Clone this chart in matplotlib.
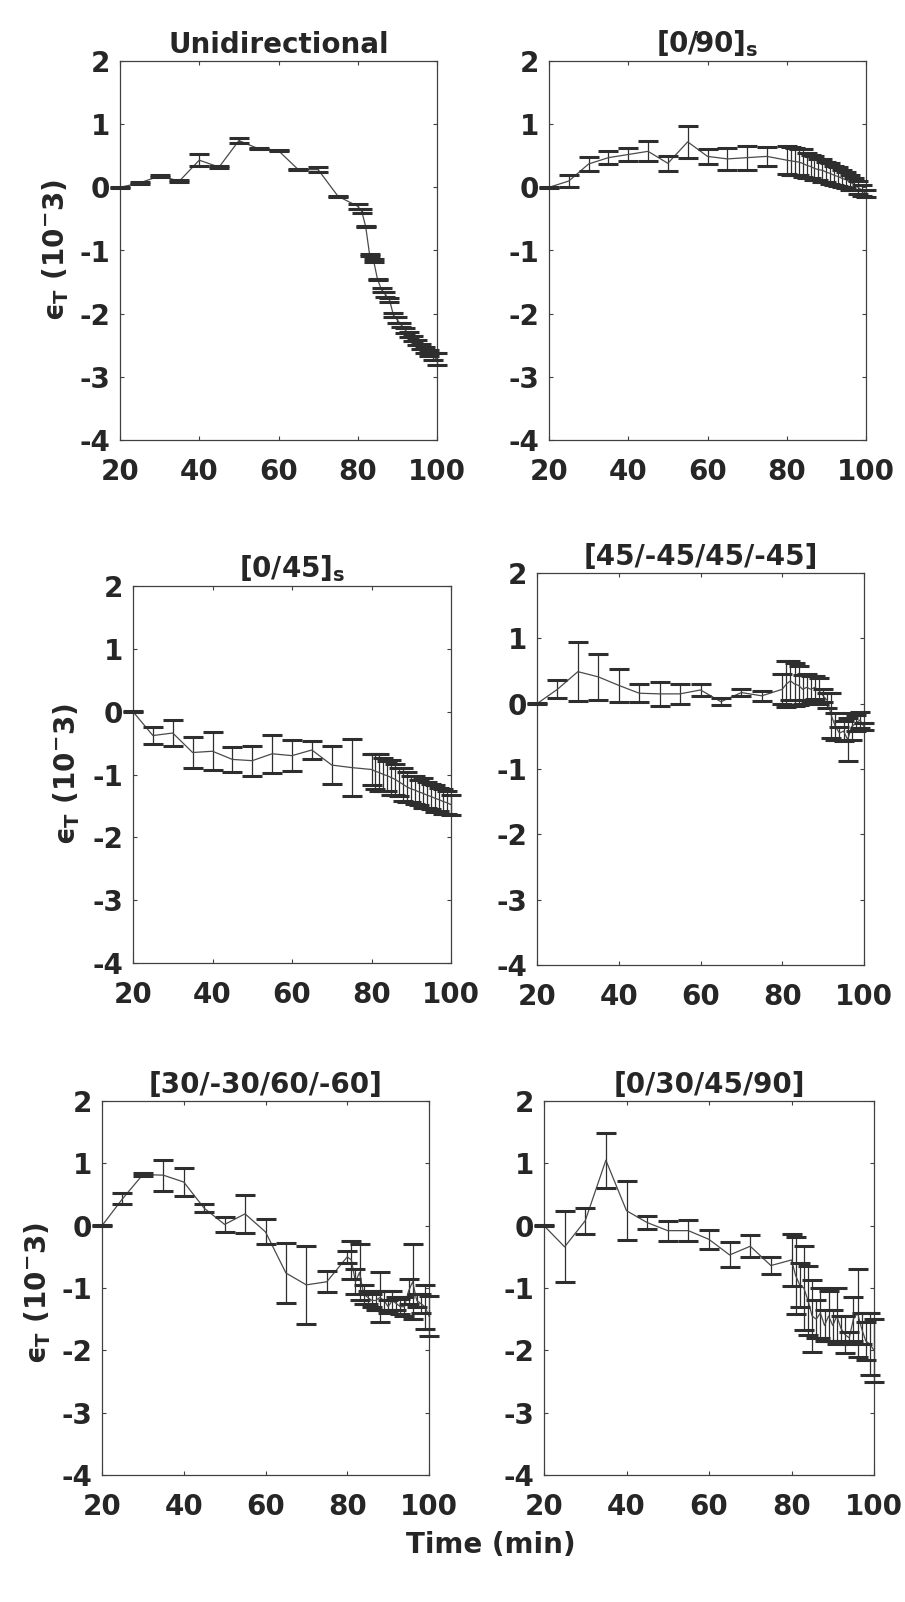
import matplotlib
matplotlib.use("Agg")
import matplotlib.pyplot as plt

plt.rcParams["font.family"] = ["DejaVu Sans"]
plt.rcParams["font.weight"] = "bold"
plt.rcParams["axes.unicode_minus"] = False
plt.rcParams["mathtext.fontset"] = "custom"
plt.rcParams["mathtext.rm"] = "DejaVu Sans:bold"
plt.rcParams["mathtext.bf"] = "DejaVu Sans:bold"
plt.rcParams["mathtext.it"] = "DejaVu Sans"

TXT = "#262626"

# ====================
# DATA
# ====================

time_min = [20, 25, 30, 35, 40, 45, 50, 55, 60, 65, 70, 75, 80,
            81, 82, 83, 84, 85, 86, 87, 88, 89, 90,
            91, 92, 93, 94, 95, 96, 97, 98, 99, 100]

uni_mean = [0.00, 0.07, 0.18, 0.10, 0.43, 0.32, 0.74, 0.61, 0.58, 0.28, 0.28, -0.14, -0.30,
            -0.38, -0.62, -1.07, -1.16, -1.46, -1.62, -1.70, -1.78, -2.02, -2.10,
            -2.18, -2.26, -2.33, -2.40, -2.46, -2.52, -2.57, -2.62, -2.68, -2.72]
uni_err = [0.01, 0.01, 0.02, 0.01, 0.10, 0.01, 0.035, 0.01, 0.01, 0.01, 0.04, 0.01, 0.04,
           0.03, 0.01, 0.02, 0.02, 0.01, 0.03, 0.04, 0.03, 0.03, 0.04,
           0.03, 0.04, 0.04, 0.04, 0.04, 0.04, 0.05, 0.05, 0.06, 0.09]

cp90_mean = [0.00, 0.10, 0.37, 0.47, 0.52, 0.57, 0.38, 0.72, 0.49, 0.45, 0.47, 0.49, 0.43,
             0.42, 0.41, 0.40, 0.38, 0.35, 0.33, 0.30, 0.28, 0.27, 0.24,
             0.22, 0.19, 0.17, 0.14, 0.12, 0.08, 0.05, 0.00, -0.05, -0.10]
cp90_err = [0.01, 0.10, 0.11, 0.10, 0.10, 0.16, 0.12, 0.25, 0.12, 0.18, 0.19, 0.15, 0.22,
            0.22, 0.21, 0.20, 0.22, 0.20, 0.18, 0.19, 0.17, 0.18, 0.16,
            0.17, 0.15, 0.15, 0.14, 0.13, 0.12, 0.10, 0.10, 0.08, 0.06]

cp45_mean = [0.00, -0.38, -0.34, -0.65, -0.63, -0.76, -0.78, -0.67, -0.70, -0.61, -0.85, -0.89, -0.92,
             -0.95, -0.97, -1.00, -1.02, -1.05, -1.08, -1.12, -1.16, -1.20, -1.23,
             -1.25, -1.28, -1.30, -1.33, -1.35, -1.38, -1.40, -1.43, -1.45, -1.48]
cp45_err = [0.01, 0.14, 0.20, 0.24, 0.30, 0.20, 0.24, 0.30, 0.25, 0.15, 0.30, 0.45, 0.25,
            0.28, 0.30, 0.26, 0.24, 0.28, 0.25, 0.22, 0.26, 0.24, 0.20,
            0.22, 0.20, 0.24, 0.21, 0.20, 0.22, 0.18, 0.20, 0.18, 0.16]

ap45_mean = [0.00, 0.22, 0.49, 0.41, 0.28, 0.16, 0.15, 0.15, 0.21, 0.03, 0.17, 0.12, 0.22,
             0.30, 0.35, 0.30, 0.28, 0.22, 0.25, 0.22, 0.25, 0.20, 0.12,
             0.05, -0.18, -0.35, -0.45, -0.42, -0.55, -0.35, -0.30, -0.25, -0.35]
ap45_err = [0.01, 0.14, 0.45, 0.35, 0.25, 0.14, 0.18, 0.15, 0.09, 0.05, 0.05, 0.08, 0.23,
            0.35, 0.30, 0.33, 0.30, 0.22, 0.20, 0.20, 0.18, 0.20, 0.10,
            0.12, 0.35, 0.20, 0.10, 0.15, 0.33, 0.20, 0.12, 0.12, 0.05]

ap3060_mean = [0.00, 0.43, 0.82, 0.81, 0.70, 0.28, 0.02, 0.19, -0.10, -0.76, -0.95, -0.90, -0.50,
               -0.55, -0.90, -0.75, -1.10, -1.15, -1.20, -1.20, -1.15, -1.20, -1.30,
               -1.20, -1.25, -1.30, -1.30, -1.05, -0.90, -1.20, -1.25, -1.30, -1.45]
ap3060_err = [0.01, 0.09, 0.02, 0.25, 0.23, 0.06, 0.12, 0.31, 0.20, 0.48, 0.63, 0.17, 0.10,
              0.30, 0.20, 0.45, 0.15, 0.10, 0.10, 0.15, 0.40, 0.15, 0.10,
              0.15, 0.10, 0.12, 0.15, 0.20, 0.60, 0.10, 0.15, 0.35, 0.32]

quasi_mean = [0.00, -0.34, 0.08, 1.05, 0.24, 0.05, -0.08, -0.08, -0.22, -0.47, -0.33, -0.64, -0.55,
              -0.80, -0.95, -1.00, -1.20, -1.45, -1.50, -1.40, -1.60, -1.45, -1.60,
              -1.45, -1.65, -1.75, -1.80, -1.50, -1.40, -1.65, -1.85, -1.90, -2.00]
quasi_err = [0.01, 0.57, 0.21, 0.44, 0.47, 0.10, 0.16, 0.17, 0.15, 0.20, 0.18, 0.14, 0.42,
             0.62, 0.35, 0.68, 0.55, 0.58, 0.30, 0.40, 0.25, 0.40, 0.25,
             0.45, 0.20, 0.30, 0.10, 0.35, 0.70, 0.25, 0.30, 0.50, 0.50]

titles = ["Unidirectional", r"$[0/90]_{\mathrm{s}}$", r"$[0/45]_{\mathrm{s}}$",
          "[45/-45/45/-45]", "[30/-30/60/-60]", "[0/30/45/90]"]
means = [uni_mean, cp90_mean, cp45_mean, ap45_mean, ap3060_mean, quasi_mean]
errs = [uni_err, cp90_err, cp45_err, ap45_err, ap3060_err, quasi_err]

x_ticks = [20, 40, 60, 80, 100]
y_ticks = [-4, -3, -2, -1, 0, 1, 2]
ylabel = "$\u03f5_{\\mathbf{T}}\\ (10^{-}3)$"

# ====================
# FIGURE
# ====================

W, H = 905, 1602
fig = plt.figure(figsize=(W / 100, H / 100), dpi=100)
fig.patch.set_facecolor("white")

# axes boxes in pixels: left, top, right, bottom (the panels are not on a regular grid)
boxes = [(120, 61, 437, 440), (549, 61, 866, 440),
         (133, 586, 451, 963), (537, 573, 864, 965),
         (102, 1101, 429, 1475), (544, 1101, 874, 1475)]

for i, (l, t, r, b) in enumerate(boxes):
    ax = fig.add_axes([l / W, 1 - b / H, (r - l) / W, (b - t) / H])
    cont = ax.errorbar(time_min, means[i], yerr=errs[i], color="#4a4a4a", lw=0.9,
                       ecolor="#2e2e2e", elinewidth=0.9, capsize=7.5, capthick=2.2)
    data_line, caps, bars = cont.lines
    data_line.set_clip_on(False)
    for c in caps:
        c.set_color("black")
        c.set_clip_on(False)
        c.set_zorder(3)
    for bl in bars:
        bl.set_clip_on(False)

    ax.set_xlim(20, 100)
    ax.set_ylim(-4, 2)
    ax.set_xticks(x_ticks)
    ax.set_yticks(y_ticks)
    ax.tick_params(direction="in", top=True, right=True, length=3, width=0.8,
                   colors="#404040", labelcolor=TXT, labelsize=20)
    ax.tick_params(axis="x", pad=13)
    ax.tick_params(axis="y", pad=7)
    for lab in ax.get_xticklabels() + ax.get_yticklabels():
        lab.set_fontweight("bold")
    for sp in ax.spines.values():
        sp.set_color("#404040")
        sp.set_linewidth(0.9)
    ax.set_title(titles[i], fontsize=20, fontweight="bold", color=TXT, pad=6)

# y labels only on the left column
for x, y in [(56, 250), (67, 774), (38, 1293)]:
    fig.text(x / W, 1 - y / H, ylabel, rotation=90, ha="center", va="center",
             fontsize=20, color=TXT)

fig.text(491 / W, 1 - 1545 / H, "Time (min)", ha="center", va="center",
         fontsize=20, fontweight="bold", color=TXT)

fig.savefig("out.png", dpi=100, facecolor="white")
